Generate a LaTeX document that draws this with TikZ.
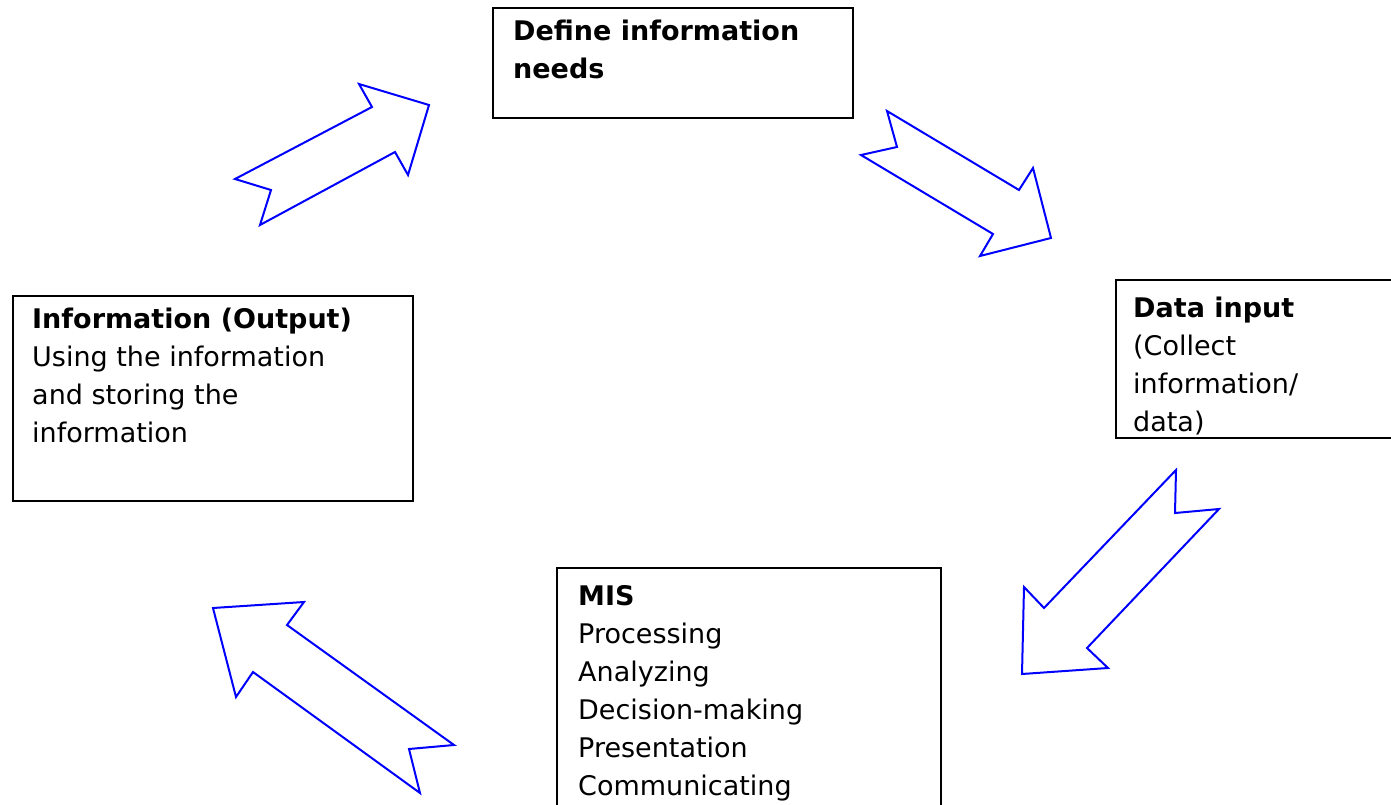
\documentclass[tikz,border=0pt]{standalone}
\usepackage{fontspec}
\setmainfont{DejaVu Sans}
\usepackage{tikz}
\usetikzlibrary{positioning, calc}
\usepackage{xcolor}
\definecolor{ArrowBlue}{HTML}{0000FF}
\tikzset{
  % Stage box
  infobox/.style={
    rectangle, draw=black, line width=2.2pt,
    fill=white, anchor=north west, inner sep=0pt
  },
  % Text inside a stage box (placed by the baseline of its last line)
  boxtext/.style={
    anchor=base west, align=left, inner sep=0pt,
    font=\fontsize{27}{38}\selectfont
  },
  % Hollow block arrow
  blockarrow/.style={
    draw=ArrowBlue, line width=2pt, fill=white, line join=miter
  }
}

\begin{document}
\begin{tikzpicture}[x=1pt, y=-1pt]

\useasboundingbox (0,0) rectangle (1391,805);

% ── stage boxes ─────────────────────────────
\node[infobox, minimum width=360pt, minimum height=110pt] (needs) at (492,7) {};
\node[boxtext] (needs_txt) at ([shift={(21,72)}]needs.north west)
  {\textbf{Define information}\\ \textbf{needs}};

\node[infobox, minimum width=290pt, minimum height=158pt] (input) at (1115,279) {};
\node[boxtext] (input_txt) at ([shift={(18,152)}]input.north west)
  {\textbf{Data input}\\ (Collect\\ information/\\ data)};

\node[infobox, minimum width=384pt, minimum height=260pt] (mis) at (556,567) {};
\node[boxtext] (mis_txt) at ([shift={(22,228)}]mis.north west)
  {\textbf{MIS}\\ Processing\\ Analyzing\\ Decision-making\\ Presentation\\ Communicating};

\node[infobox, minimum width=400pt, minimum height=205pt] (output) at (12,295) {};
\node[boxtext] (output_txt) at ([shift={(20,147)}]output.north west)
  {\textbf{Information (Output)}\\ Using the information\\ and storing the\\ information};

% ── block arrows of the cycle ───────────────
\draw[blockarrow] (235,179) -- (271,190) -- (260,225) -- (395,152) -- (408,175)
  -- (429,105) -- (359,84) -- (372,107) -- cycle;
\draw[blockarrow] (887,111) -- (897,147) -- (861,155) -- (993,234) -- (980,256)
  -- (1051,238) -- (1033,168) -- (1019,190) -- cycle;
\draw[blockarrow] (1176,470) -- (1175,513) -- (1219,509) -- (1087,648) -- (1108,668)
  -- (1022,674) -- (1024,587) -- (1044,608) -- cycle;
\draw[blockarrow] (454,745) -- (409,749) -- (420,793) -- (253,672) -- (236,697)
  -- (213,608) -- (304,602) -- (287,625) -- cycle;

\end{tikzpicture}
\end{document}
